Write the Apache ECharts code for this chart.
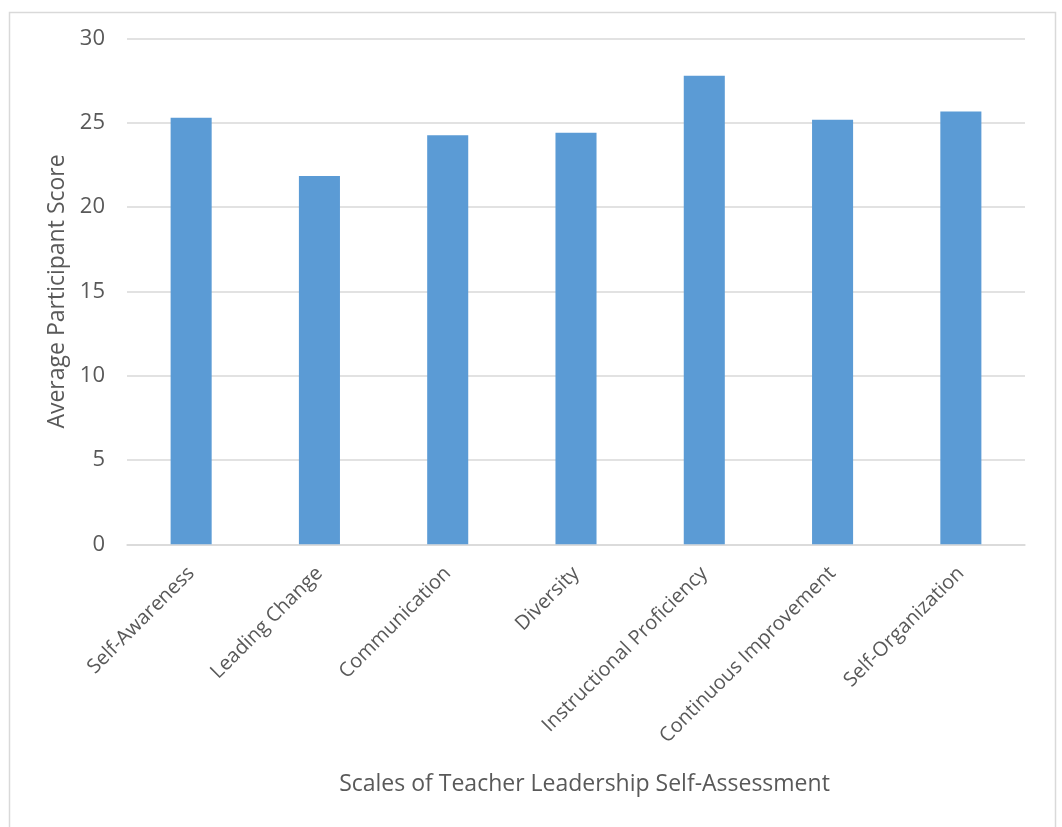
<!DOCTYPE html>
<html>
<head>
<meta charset="utf-8">
<script src="https://cdn.jsdelivr.net/npm/echarts@6/dist/echarts.min.js"></script>
<style>
html,body{margin:0;padding:0;background:#fff;}
#chart{width:1062px;height:827px;}
</style>
</head>
<body>
<div id="chart"></div>
<script>
const categories = ["Self-Awareness","Leading Change","Communication","Diversity","Instructional Proficiency","Continuous Improvement","Self-Organization"];
const scores = [25.31, 21.85, 24.26, 24.42, 27.8, 25.19, 25.67];
const yTicks = { min: 0, max: 30, interval: 5 };
const xTitle = "Scales of Teacher Leadership Self-Assessment";
const yTitle = "Average Participant Score";

const chart = echarts.init(document.getElementById('chart'), null, {renderer:'canvas'});
const FONT = "'Open Sans', 'Noto Sans', sans-serif";
chart.setOption({
  animation: false,
  backgroundColor: '#ffffff',
  graphic: [{
    type: 'rect', left: 7, top: 10,
    shape: { width: 1046, height: 830 },
    style: { fill: 'none', stroke: '#D9D9D9', lineWidth: 1.5 },
    silent: true
  }],
  grid: { left: 127, right: 37, top: 38.6, bottom: 282.7, containLabel: false },
  xAxis: {
    type: 'category',
    data: categories,
    axisLine: { show: true, lineStyle: { color: '#D9D9D9', width: 1.5 } },
    axisTick: { show: false },
    axisLabel: { rotate: 45, margin: 26, color: '#595959', fontSize: 20, fontFamily: FONT, interval: 0 },
    name: xTitle,
    nameLocation: 'middle',
    nameGap: 229,
    nameTextStyle: { color: '#595959', fontSize: 23, fontFamily: FONT, padding: [0, 0, 0, 17] }
  },
  yAxis: {
    type: 'value',
    min: yTicks.min, max: yTicks.max, interval: yTicks.interval,
    axisLine: { show: false },
    axisTick: { show: false },
    splitLine: { lineStyle: { color: '#D9D9D9', width: 1.5 } },
    axisLabel: { margin: 22, color: '#595959', fontSize: 22, fontFamily: FONT },
    name: yTitle,
    nameLocation: 'middle',
    nameGap: 56,
    nameRotate: 90,
    nameTextStyle: { color: '#595959', fontSize: 23, fontFamily: FONT }
  },
  series: [{
    type: 'bar',
    data: scores,
    barWidth: '32%',
    itemStyle: { color: '#5B9BD5' }
  }]
});
</script>
</body>
</html>
